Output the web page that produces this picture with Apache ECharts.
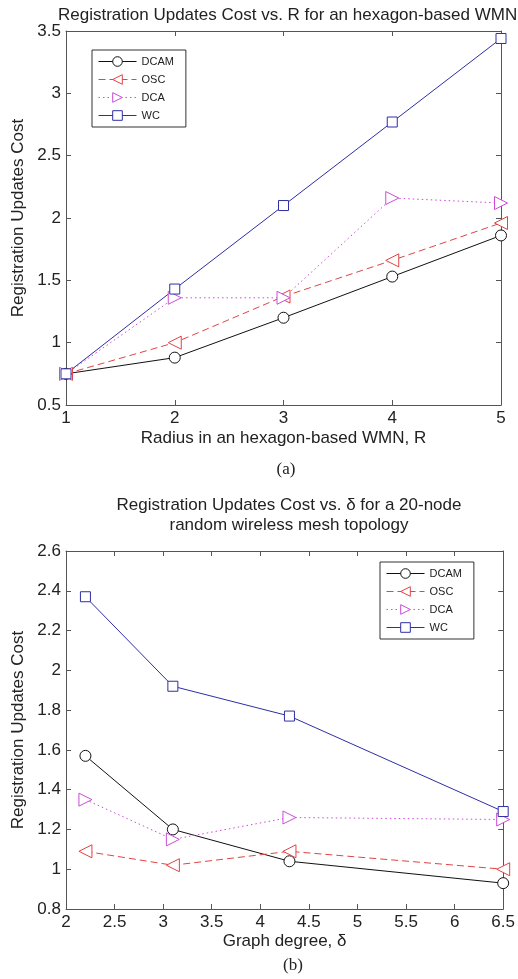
<!DOCTYPE html>
<html>
<head>
<meta charset="utf-8">
<script src="https://cdn.jsdelivr.net/npm/echarts@6/dist/echarts.min.js"></script>
<style>
  html, body { margin: 0; padding: 0; background: #fff; }
  #chart { width: 518px; height: 979px; }
</style>
</head>
<body>
<div id="chart"></div>
<script>
// (a) hexagon-based WMN, cost vs radius R
const radiusR = [1, 2, 3, 4, 5];
const dcamA = [0.75, 0.88, 1.20, 1.53, 1.86];
const oscA  = [0.75, 1.00, 1.37, 1.66, 1.96];
const dcaA  = [0.75, 1.36, 1.36, 2.16, 2.12];
const wcA   = [0.75, 1.43, 2.10, 2.77, 3.44];

// (b) 20-node random topology, cost vs graph degree
const degreeB = [2.2, 3.1, 4.3, 6.5];
const dcamB = [1.57, 1.20, 1.04, 0.93];
const oscB  = [1.09, 1.02, 1.09, 1.00];
const dcaB  = [1.35, 1.15, 1.26, 1.25];
const wcB   = [2.37, 1.92, 1.77, 1.29];

const seriesNames = ['DCAM', 'OSC', 'DCA', 'WC'];

const FONT = 'Liberation Sans';
const AXIS_COLOR = '#555';
const TXT = '#222';

const styles = {
  DCAM: { color: '#111', type: 'solid', symbol: 'circle', size: 11, rotate: 0 },
  OSC:  { color: '#e04444', type: [7, 4], symbol: 'triangle', size: 13, rotate: 90 },
  DCA:  { color: '#cc4cd8', type: [1.5, 3], symbol: 'triangle', size: 13, rotate: -90 },
  WC:   { color: '#2e2ea6', type: 'solid', symbol: 'rect', size: 10, rotate: 0 }
};

function zip(xs, ys) {
  return xs.map((x, i) => [x, ys[i]]);
}

function makeSeries(name, xs, ys, idx) {
  const s = styles[name];
  return {
    name: name,
    type: 'line',
    xAxisIndex: idx,
    yAxisIndex: idx,
    data: zip(xs, ys),
    symbol: s.symbol,
    symbolSize: s.size,
    symbolRotate: s.rotate,
    showAllSymbol: true,
    itemStyle: { color: '#fff', borderColor: s.color, borderWidth: 1 },
    lineStyle: { color: s.color, width: 1, type: s.type },
    emphasis: { disabled: true },
    animation: false
  };
}

function valueAxis(opts) {
  return Object.assign({
    type: 'value',
    axisLine: { show: true, onZero: false, lineStyle: { color: AXIS_COLOR, width: 1 } },
    axisTick: { show: true, inside: true, length: 5, lineStyle: { color: AXIS_COLOR } },
    axisLabel: { color: TXT, fontFamily: FONT, fontSize: 17, margin: 5 },
    splitLine: { show: false },
    nameTextStyle: { color: TXT, fontFamily: FONT, fontSize: 17 }
  }, opts);
}

function frameAxis(opts) {
  return Object.assign(valueAxis({}), {
    axisLabel: { show: false }
  }, opts);
}

const gridA = { left: 66, top: 31, width: 435, height: 374 };
const gridB = { left: 66, top: 551, width: 440, height: 358 };

const legendBase = {
  orient: 'vertical',
  backgroundColor: '#fff',
  borderColor: '#333',
  borderWidth: 1,
  padding: [6, 12, 6, 6],
  itemWidth: 38,
  itemHeight: 12,
  itemGap: 7,
  lineStyle: { width: 1 },
  itemStyle: { borderWidth: 1 },
  textStyle: { fontFamily: FONT, fontSize: 11, color: TXT },
  data: seriesNames
};

const option = {
  backgroundColor: '#fff',
  animation: false,
  title: [
    { text: 'Registration Updates Cost vs. R for an hexagon-based WMN', left: 53, top: 2,
      textStyle: { fontFamily: FONT, fontSize: 17, fontWeight: 'normal', color: TXT } },
    { text: 'Registration Updates Cost vs. δ for a 20-node\nrandom wireless mesh topology', left: 284, top: 490,
      textAlign: 'center',
      textStyle: { fontFamily: FONT, fontSize: 17, fontWeight: 'normal', color: TXT, lineHeight: 20, align: 'center' } },
    { text: '(a)', left: 281, top: 456, textAlign: 'center',
      textStyle: { fontFamily: 'Liberation Serif', fontSize: 17, fontWeight: 'normal', color: TXT } },
    { text: '(b)', left: 288, top: 952, textAlign: 'center',
      textStyle: { fontFamily: 'Liberation Serif', fontSize: 17, fontWeight: 'normal', color: TXT } }
  ],
  legend: [
    Object.assign({ left: 92, top: 50 }, legendBase),
    Object.assign({ left: 380, top: 562 }, legendBase)
  ],
  grid: [gridA, gridB],
  xAxis: [
    valueAxis({ gridIndex: 0, min: 1, max: 5, interval: 1, position: 'bottom',
      name: 'Radius in an hexagon-based WMN, R', nameLocation: 'middle', nameGap: 25 }),
    valueAxis({ gridIndex: 1, min: 2, max: 6.5, interval: 0.5, position: 'bottom',
      name: 'Graph degree, δ', nameLocation: 'middle', nameGap: 24 }),
    frameAxis({ gridIndex: 0, min: 1, max: 5, interval: 1, position: 'top' }),
    frameAxis({ gridIndex: 1, min: 2, max: 6.5, interval: 0.5, position: 'top' })
  ],
  yAxis: [
    valueAxis({ gridIndex: 0, min: 0.5, max: 3.5, interval: 0.5, position: 'left',
      name: 'Registration Updates Cost', nameLocation: 'middle', nameGap: 38 }),
    valueAxis({ gridIndex: 1, min: 0.8, max: 2.6, interval: 0.2, position: 'left',
      name: 'Registration Updates Cost', nameLocation: 'middle', nameGap: 38,
      axisLabel: { color: TXT, fontFamily: FONT, fontSize: 17, margin: 5,
        formatter: v => String(Math.round(v * 10) / 10) } }),
    frameAxis({ gridIndex: 0, min: 0.5, max: 3.5, interval: 0.5, position: 'right' }),
    frameAxis({ gridIndex: 1, min: 0.8, max: 2.6, interval: 0.2, position: 'right' })
  ],
  series: [
    makeSeries('DCAM', radiusR, dcamA, 0),
    makeSeries('OSC', radiusR, oscA, 0),
    makeSeries('DCA', radiusR, dcaA, 0),
    makeSeries('WC', radiusR, wcA, 0),
    makeSeries('DCAM', degreeB, dcamB, 1),
    makeSeries('OSC', degreeB, oscB, 1),
    makeSeries('DCA', degreeB, dcaB, 1),
    makeSeries('WC', degreeB, wcB, 1)
  ]
};

const chart = echarts.init(document.getElementById('chart'), null, { renderer: 'canvas' });
chart.setOption(option);
</script>
</body>
</html>
